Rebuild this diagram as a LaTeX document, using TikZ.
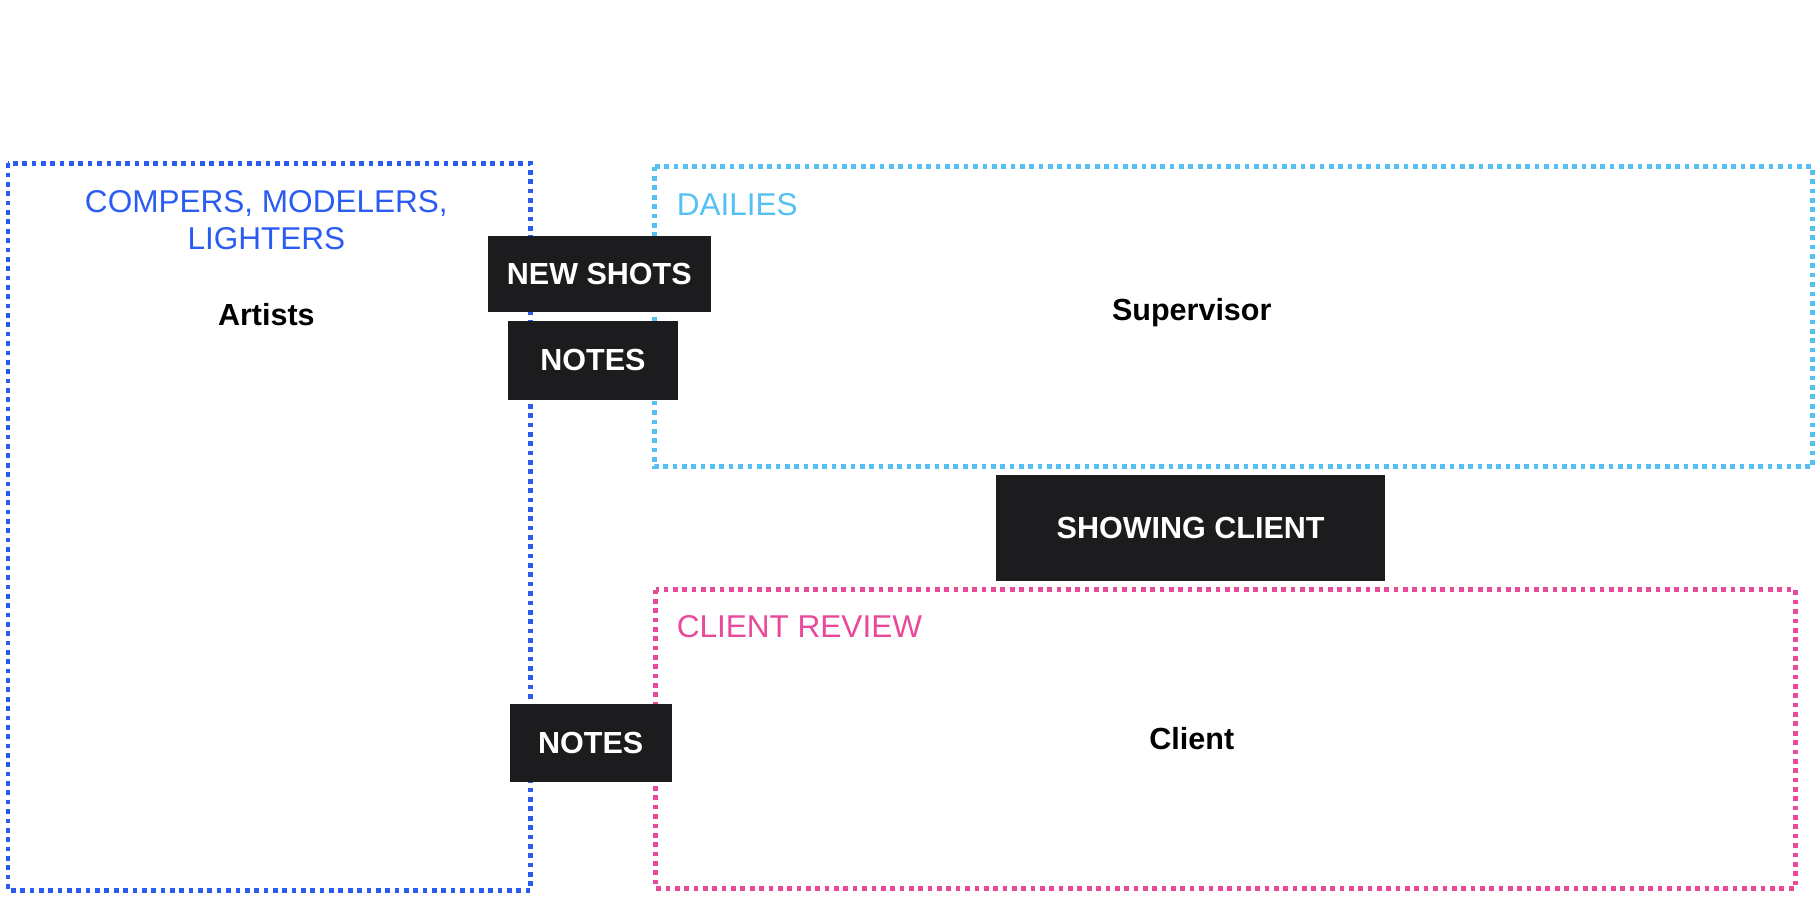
\documentclass[tikz,border=0pt]{standalone}
\usepackage{fontspec}
\setmainfont{Liberation Sans}
\begin{document}
\begin{tikzpicture}[x=0.02cm, y=-0.02cm]
    % Styles
    \definecolor{artblue}{HTML}{2B5CF2}
    \definecolor{dailyblue}{HTML}{55C1F2}
    \definecolor{clientpink}{HTML}{E8499A}
    \definecolor{tagblack}{HTML}{1C1C1E}
    \tikzstyle{group} = [line width=2.3pt, dash pattern=on 2.3pt off 2.3pt]
    \tikzstyle{tag} = [fill=tagblack, text=white, font=\fontsize{15}{18}\selectfont\bfseries, inner sep=0pt, align=center]
    \tikzstyle{title} = [font=\fontsize{15.5}{19}\selectfont]
    \tikzstyle{role} = [font=\fontsize{15}{18}\selectfont\bfseries]

    \useasboundingbox (0,0) rectangle (1568,774);

    % Groups
    \draw[group, artblue] (7,141) rectangle (458,769);
    \draw[group, dailyblue] (565,144) rectangle (1565,403);
    \draw[group, clientpink] (566,509) rectangle (1550,767);

    % Group titles
    \node[title, text=artblue, align=center] (crew) at (230,190) {COMPERS, MODELERS,\\[-1pt]LIGHTERS};
    \node[title, text=dailyblue, anchor=west, inner sep=0pt] (dailies) at (584,177) {DAILIES};
    \node[title, text=clientpink, anchor=west, inner sep=0pt] (review) at (584,541) {CLIENT REVIEW};

    % Roles
    \node[role] (artists) at (230,272) {Artists};
    \node[role] (supervisor) at (1029,270) {Supervisor};
    \node[role] (client) at (1029,638) {Client};

    % Tags
    \node[tag, minimum width=193\pgflinewidth/\pgflinewidth*0.02cm, minimum height=1.3cm] (newshots) at (517.5,236.5) {NEW SHOTS};
    \node[tag, minimum width=2.92cm, minimum height=1.36cm] (notes1) at (512,311) {NOTES};
    \node[tag, minimum width=6.72cm, minimum height=1.84cm] (showing) at (1028,456) {SHOWING CLIENT};
    \node[tag, minimum width=2.8cm, minimum height=1.34cm] (notes2) at (510,641.5) {NOTES};
\end{tikzpicture}
\end{document}
